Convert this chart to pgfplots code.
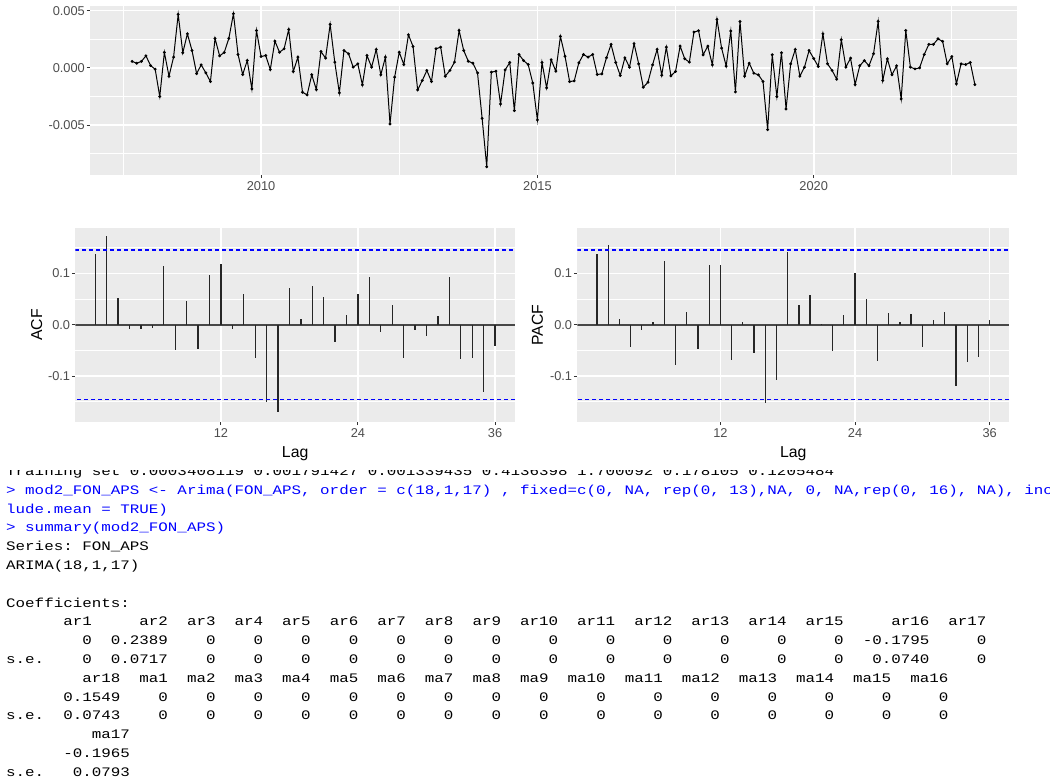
\documentclass[border=0pt]{standalone}
\usepackage{fontspec}
\setmainfont{Liberation Sans}
\newfontfamily\consolefont[FakeStretch=1.22]{Liberation Mono}
\usepackage{pgfplots}
\usepackage{pgfplotstable}
\pgfplotsset{compat=1.18}

\definecolor{ggpanel}{HTML}{EBEBEB}
\definecolor{ggaxis}{HTML}{4D4D4D}
\definecolor{ggtick}{HTML}{333333}
\definecolor{rcmd}{RGB}{0,0,255}
\definecolor{ciblue}{RGB}{0,0,255}

% monthly series, in units of 1e-3, Sep 2007 .. Dec 2022
\pgfplotstableread[row sep=\\]{
v\\
0.56\\ 0.41\\ 0.56\\ 1.05\\ 0.20\\ -0.12\\ -2.51\\ 1.35\\ -0.73\\ 0.94\\ 4.68\\ 1.32\\
2.98\\ 1.52\\ -0.50\\ 0.26\\ -0.44\\ -1.20\\ 2.57\\ 1.05\\ 1.35\\ 2.57\\ 4.74\\ 1.17\\
-0.58\\ 0.64\\ -1.84\\ 3.27\\ 0.99\\ 1.08\\ -0.15\\ 2.34\\ 1.37\\ 1.67\\ 3.36\\ -0.32\\
0.94\\ -2.13\\ -2.37\\ -0.61\\ -1.90\\ 1.43\\ 0.85\\ 3.80\\ 0.50\\ -2.19\\ 1.52\\ 1.23\\
0.06\\ 0.35\\ -1.49\\ 1.08\\ 0.06\\ 1.61\\ -0.61\\ 0.94\\ -4.91\\ -0.82\\ 1.37\\ 0.29\\
2.89\\ 1.87\\ -1.93\\ -1.11\\ -0.23\\ -1.20\\ 1.67\\ 1.81\\ -0.73\\ -0.23\\ 0.50\\ 3.27\\
1.52\\ 0.58\\ 0.41\\ -0.44\\ -4.42\\ -8.66\\ -0.38\\ -0.29\\ -3.16\\ -0.18\\ 0.47\\ -3.74\\
1.17\\ 0.64\\ 0.29\\ -1.32\\ -4.56\\ 0.47\\ -1.75\\ 0.70\\ -0.29\\ 2.75\\ 1.02\\ -1.20\\
-1.14\\ 0.44\\ 1.17\\ 0.94\\ 1.17\\ -0.58\\ -0.53\\ 0.88\\ 2.05\\ 0.47\\ -0.67\\ 0.88\\
0.06\\ 2.11\\ 0.35\\ -1.70\\ -1.26\\ 0.26\\ 1.61\\ -0.64\\ 1.81\\ -0.70\\ -0.32\\ 1.90\\
0.79\\ 0.50\\ 3.13\\ 3.25\\ 1.14\\ 1.90\\ 0.26\\ 4.24\\ 1.73\\ 0.15\\ 3.22\\ -2.11\\
4.06\\ -0.73\\ 0.41\\ -0.47\\ -0.61\\ -1.20\\ -5.41\\ 1.14\\ -2.51\\ 1.32\\ -3.60\\ 0.35\\
1.61\\ -0.73\\ 0.06\\ 1.52\\ 0.82\\ 0.12\\ 2.98\\ 0.35\\ -0.23\\ -0.99\\ 2.46\\ 0.06\\
0.85\\ -1.46\\ 0.18\\ 0.64\\ 0.18\\ 1.23\\ 4.06\\ -1.11\\ 0.79\\ -0.61\\ 0.18\\ -2.72\\
3.27\\ 0.06\\ -0.09\\ 0.00\\ 1.17\\ 2.05\\ 2.05\\ 2.54\\ 2.31\\ 0.35\\ 0.99\\ -1.40\\
0.35\\ 0.29\\ 0.47\\ -1.46\\
}\fonaps

\pgfplotstableread{
lag acf pacf
1 0.138 0.138
2 0.173 0.156
3 0.053 0.011
4 -0.008 -0.043
5 -0.008 -0.011
6 -0.006 0.005
7 0.114 0.125
8 -0.049 -0.079
9 0.047 0.025
10 -0.047 -0.047
11 0.097 0.117
12 0.119 0.117
13 -0.008 -0.069
14 0.059 0.005
15 -0.064 -0.055
16 -0.150 -0.153
17 -0.171 -0.107
18 0.071 0.142
19 0.011 0.038
20 0.075 0.058
21 0.055 0.001
22 -0.034 -0.051
23 0.019 0.019
24 0.059 0.100
25 0.093 0.051
26 -0.014 -0.071
27 0.039 0.023
28 -0.064 0.005
29 -0.010 0.021
30 -0.022 -0.043
31 0.017 0.009
32 0.093 0.025
33 -0.066 -0.119
34 -0.064 -0.073
35 -0.131 -0.063
36 -0.042 0.009
}\correl

\newcommand\con{\consolefont\fontsize{13}{13}\selectfont\spaceskip=\fontcharwd\font`\0\relax}
\newcommand\axtitle{\fontsize{15.8}{18}\selectfont}

\pgfplotsset{
  gg/.style={
    scale only axis, anchor=north west,
    axis background/.style={fill=ggpanel},
    axis line style={draw=none},
    grid=both,
    major grid style={white, line width=1.6pt},
    minor grid style={white, line width=0.8pt},
    tick align=outside, major tick length=3.5pt, minor tick length=0pt,
    every tick/.style={ggtick, line width=1pt},
    xtick pos=left, ytick pos=left,
    tick label style={font=\fontsize{12.8}{14}\selectfont, text=ggaxis},
    yticklabel style={inner sep=1.5pt},
    xticklabel style={inner sep=3pt},
  },
  acf/.style={gg, width=#1, height=193.4pt,
    xmin=-0.75, xmax=37.75, ymin=-0.189, ymax=0.188,
    xtick={12,24,36}, xticklabels={12,24,36},
    ytick={-0.1,0,0.1}, yticklabels={-0.1,0.0,0.1},
    minor ytick={-0.15,-0.05,0.05,0.15},
    xlabel={Lag},
    every axis x label/.style={at={(axis description cs:0.5,-0.186)}, anchor=base, font=\axtitle, text=black},
  },
  zero/.style={black!72, line width=1.8pt},
  bar/.style={ycomb, black!85, line width=1.3pt, mark=none},
  ci/.style={draw=ciblue, line width=1.4pt, dash pattern=on 4pt off 3pt, mark=none},
}

\begin{document}
\begin{tikzpicture}
\path[use as bounding box] (0pt,0pt) rectangle (1050pt,-782pt);
\clip (0pt,0pt) rectangle (1050pt,-782pt);
\fill[white] (0pt,0pt) rectangle (1050pt,-782pt);

% console output
\begin{scope}[every node/.style={anchor=base west, inner sep=0pt, font=\con, text=black}]
\node at (6pt,-475.5pt) {Training~set~0.0003408119~0.001791427~0.001339435~0.4136398~1.700092~0.178105~0.1205484};
\node[text=rcmd] at (6pt,-494.3pt) {>~mod2\_FON\_APS~<-~Arima(FON\_APS,~order~=~c(18,1,17)~,~fixed=c(0,~NA,~rep(0,~13),NA,~0,~NA,rep(0,~16),~NA),~inc};
\node[text=rcmd] at (6pt,-513.1pt) {lude.mean~=~TRUE)};
\node[text=rcmd] at (6pt,-531.9pt) {>~summary(mod2\_FON\_APS)};
\node at (6pt,-550.7pt) {Series:~FON\_APS};
\node at (6pt,-569.5pt) {ARIMA(18,1,17)};
\node at (6pt,-607.1pt) {Coefficients:};
\node at (6pt,-625.9pt) {~~~~~~ar1~~~~~ar2~~ar3~~ar4~~ar5~~ar6~~ar7~~ar8~~ar9~~ar10~~ar11~~ar12~~ar13~~ar14~~ar15~~~~~ar16~~ar17};
\node at (6pt,-644.7pt) {~~~~~~~~0~~0.2389~~~~0~~~~0~~~~0~~~~0~~~~0~~~~0~~~~0~~~~~0~~~~~0~~~~~0~~~~~0~~~~~0~~~~~0~~-0.1795~~~~~0};
\node at (6pt,-663.5pt) {s.e.~~~~0~~0.0717~~~~0~~~~0~~~~0~~~~0~~~~0~~~~0~~~~0~~~~~0~~~~~0~~~~~0~~~~~0~~~~~0~~~~~0~~~0.0740~~~~~0};
\node at (6pt,-682.3pt) {~~~~~~~~ar18~~ma1~~ma2~~ma3~~ma4~~ma5~~ma6~~ma7~~ma8~~ma9~~ma10~~ma11~~ma12~~ma13~~ma14~~ma15~~ma16};
\node at (6pt,-701.1pt) {~~~~~~0.1549~~~~0~~~~0~~~~0~~~~0~~~~0~~~~0~~~~0~~~~0~~~~0~~~~~0~~~~~0~~~~~0~~~~~0~~~~~0~~~~~0~~~~~0};
\node at (6pt,-719.9pt) {s.e.~~0.0743~~~~0~~~~0~~~~0~~~~0~~~~0~~~~0~~~~0~~~~0~~~~0~~~~~0~~~~~0~~~~~0~~~~~0~~~~~0~~~~~0~~~~~0};
\node at (6pt,-738.7pt) {~~~~~~~~~ma17};
\node at (6pt,-757.5pt) {~~~~~~-0.1965};
\node at (6pt,-776.3pt) {s.e.~~~0.0793};
\end{scope}
% the plot image covers the top of the first console line
\fill[white] (0pt,0pt) rectangle (1050pt,-469.5pt);

% time series
\begin{axis}[gg, at={(90pt,-6pt)}, width=927pt, height=168.5pt,
  xmin=2006.904, xmax=2023.679, ymin=-9.33, ymax=5.41,
  xtick={2010,2015,2020}, xticklabels={2010,2015,2020},
  minor xtick={2007.5,2012.5,2017.5,2022.5},
  ytick={-5,0,5}, yticklabels={-0.005,0.000,0.005},
  minor ytick={-7.5,-2.5,2.5}]
\addplot[black, line width=1pt, mark=*, mark size=0.9pt]
  table[x expr={2007+8/12+\coordindex/12}, y=v] {\fonaps};
\end{axis}

% ACF
\begin{axis}[acf=439.7pt, at={(75.3pt,-228.3pt)}, ylabel={ACF},
  every axis y label/.style={at={(axis description cs:-0.0877,0.5)}, anchor=center, rotate=90, font=\axtitle, text=black}]
\addplot[zero] coordinates {(-0.75,0) (37.75,0)};
\addplot[bar] table[x=lag, y=acf] {\correl};
\addplot[ci] coordinates {(-0.75,0.1455) (37.75,0.1455)};
\addplot[ci] coordinates {(37.75,-0.1455) (-0.75,-0.1455)};
\end{axis}

% PACF
\begin{axis}[acf=432pt, at={(577.3pt,-228.3pt)}, ylabel={PACF},
  every axis y label/.style={at={(axis description cs:-0.0921,0.5)}, anchor=center, rotate=90, font=\axtitle, text=black}]
\addplot[zero] coordinates {(-0.75,0) (37.75,0)};
\addplot[bar] table[x=lag, y=pacf] {\correl};
\addplot[ci] coordinates {(-0.75,0.1455) (37.75,0.1455)};
\addplot[ci] coordinates {(37.75,-0.1455) (-0.75,-0.1455)};
\end{axis}
\end{tikzpicture}
\end{document}
